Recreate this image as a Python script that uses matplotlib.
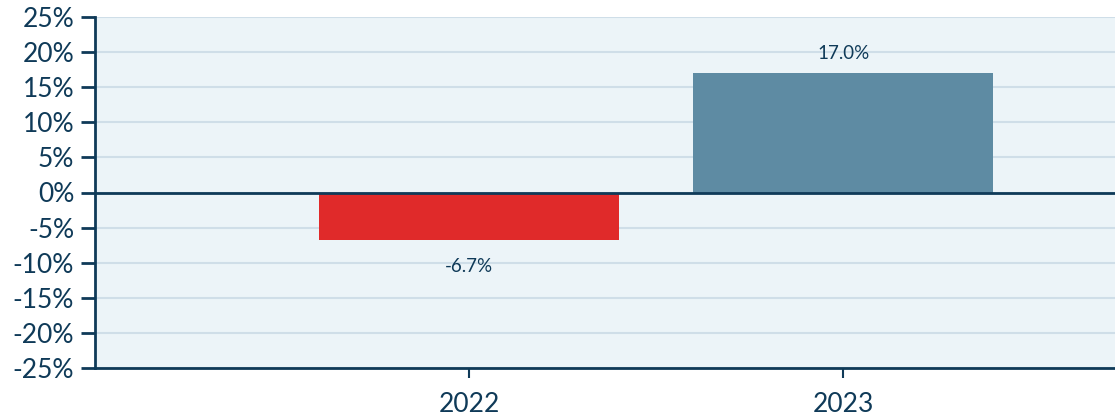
import matplotlib
matplotlib.use("Agg")
import matplotlib.pyplot as plt
from matplotlib.ticker import FuncFormatter

categories = ["2022", "2023"]
values = [-6.7, 17.0]
labels = ["-6.7%", "17.0%"]
bar_colors = ["#E02A2A", "#5E8BA3"]
yticks = [-25, -20, -15, -10, -5, 0, 5, 10, 15, 20, 25]

navy = "#0F3A58"
plt.rcParams['font.family'] = ['Lato', 'DejaVu Sans']

fig = plt.figure(figsize=(11.15, 4.16), dpi=100)
ax = fig.add_axes([95/1115, 48/416, 1 - 95/1115, (368-17)/416])
ax.set_facecolor("#ECF4F8")

x = list(range(len(categories)))
ax.bar(x, values, width=0.8, color=bar_colors, zorder=3)
ax.axhline(0, color=navy, lw=2, zorder=4)

for xi, v, lab in zip(x, values, labels):
    if v >= 0:
        ax.annotate(lab, (xi, v), xytext=(0, 8), textcoords="offset points",
                    ha="center", va="bottom", fontsize=13.5, color=navy)
    else:
        ax.annotate(lab, (xi, v), xytext=(0, -13), textcoords="offset points",
                    ha="center", va="top", fontsize=13.5, color=navy)

ax.set_ylim(-25, 25)
ax.set_xlim(-1, 1.727)
ax.set_yticks(yticks)
ax.yaxis.set_major_formatter(FuncFormatter(lambda v, p: f"{int(v)}%"))
ax.set_xticks(x)
ax.set_xticklabels(categories)
ax.grid(axis="y", color="#CFDEE8", lw=1.5, zorder=1)
ax.set_axisbelow(True)

for s in ["top", "right"]:
    ax.spines[s].set_visible(False)
for s in ["left", "bottom"]:
    ax.spines[s].set_color(navy)
    ax.spines[s].set_linewidth(2)

ax.tick_params(axis="y", length=10, width=2, color=navy, labelsize=19, labelcolor=navy, pad=5)
ax.tick_params(axis="x", length=7, width=1.5, color=navy, labelsize=19, labelcolor=navy, pad=10)

fig.savefig("out.png", dpi=100)
